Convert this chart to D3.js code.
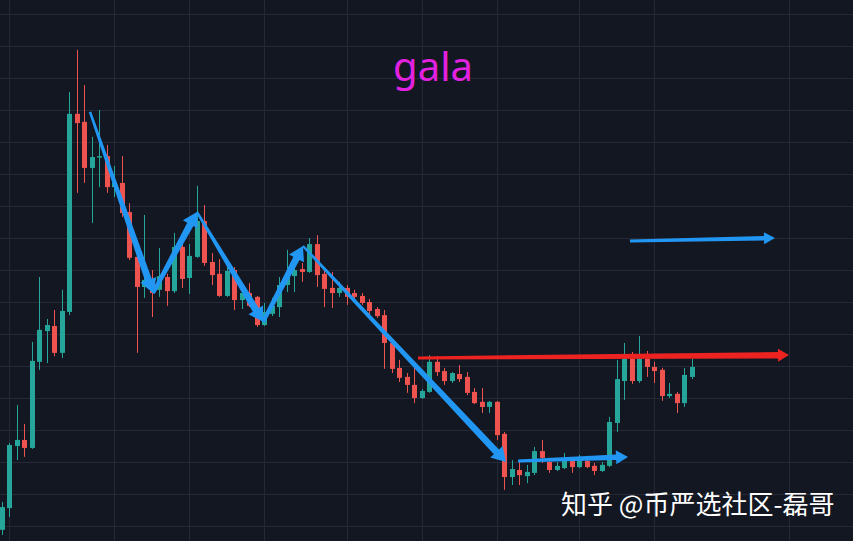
<!DOCTYPE html>
<html><head><meta charset="utf-8">
<script src="https://cdn.jsdelivr.net/npm/d3@7"></script>
<style>html,body{margin:0;padding:0;background:#131722;overflow:hidden}svg{display:block}</style>
</head><body><svg id="c" width="853" height="541"></svg>
<script>
const opens = [0.1988,0.2056,0.2250,0.2269,0.2244,0.2513,0.2609,0.2625,0.2541,0.2669,
0.3288,0.3263,0.3119,0.3153,0.3156,0.3059,0.3072,0.2981,0.2841,0.2747,
0.2769,0.2738,0.2778,0.2734,0.2872,0.2775,0.2841,0.2953,0.2825,0.2788,
0.2719,0.2800,0.2706,0.2728,0.2716,0.2628,0.2663,0.2684,0.2753,0.2781,
0.2803,0.2794,0.2881,0.2788,0.2744,0.2728,0.2744,0.2728,0.2719,0.2700,
0.2678,0.2659,0.2572,0.2494,0.2466,0.2441,0.2400,0.2419,0.2513,0.2484,
0.2453,0.2475,0.2466,0.2419,0.2388,0.2372,0.2388,0.2288,0.2153,0.2175,
0.2156,0.2166,0.2234,0.2200,0.2175,0.2181,0.2203,0.2184,0.2203,0.2188,
0.2172,0.2188,0.2322,0.2453,0.2522,0.2453,0.2522,0.2497,0.2488,0.2406,
0.2413,0.2384,0.2466];
const closes = [0.2059,0.2253,0.2269,0.2244,0.2516,0.2613,0.2628,0.2541,0.2672,0.3288,
0.3259,0.3119,0.3153,0.3156,0.3059,0.3072,0.2978,0.2838,0.2747,0.2769,
0.2728,0.2781,0.2734,0.2872,0.2772,0.2844,0.2953,0.2822,0.2784,0.2719,
0.2797,0.2706,0.2728,0.2688,0.2628,0.2669,0.2688,0.2753,0.2778,0.2800,
0.2794,0.2881,0.2784,0.2741,0.2728,0.2744,0.2716,0.2716,0.2697,0.2672,
0.2656,0.2572,0.2491,0.2463,0.2441,0.2400,0.2422,0.2513,0.2481,0.2453,
0.2478,0.2459,0.2416,0.2384,0.2372,0.2388,0.2284,0.2153,0.2178,0.2159,
0.2169,0.2234,0.2213,0.2175,0.2188,0.2206,0.2184,0.2206,0.2184,0.2172,
0.2191,0.2325,0.2459,0.2522,0.2453,0.2522,0.2497,0.2484,0.2406,0.2413,
0.2384,0.2472,0.2497];
const highs = [0.2075,0.2259,0.2378,0.2319,0.2575,0.2778,0.2647,0.2675,0.2738,0.3356,
0.3488,0.3378,0.3216,0.3300,0.3191,0.3125,0.3156,0.3009,0.2847,0.2972,
0.2800,0.2869,0.2788,0.2916,0.2894,0.2881,0.3063,0.3003,0.2853,0.2834,
0.2813,0.2809,0.2753,0.2759,0.2719,0.2697,0.2713,0.2778,0.2863,0.2806,
0.2822,0.2900,0.2909,0.2800,0.2794,0.2763,0.2753,0.2738,0.2728,0.2709,
0.2684,0.2675,0.2575,0.2519,0.2478,0.2494,0.2428,0.2534,0.2531,0.2494,
0.2481,0.2503,0.2481,0.2431,0.2431,0.2391,0.2391,0.2294,0.2206,0.2200,
0.2191,0.2247,0.2269,0.2213,0.2200,0.2228,0.2216,0.2222,0.2213,0.2197,
0.2200,0.2341,0.2519,0.2572,0.2544,0.2594,0.2547,0.2513,0.2494,0.2447,
0.2419,0.2494,0.2522];
const lows = [0.1972,0.2028,0.2206,0.2216,0.2241,0.2488,0.2509,0.2531,0.2525,0.2659,
0.3041,0.3072,0.2947,0.3059,0.3041,0.3028,0.2966,0.2831,0.2541,0.2713,
0.2653,0.2716,0.2688,0.2728,0.2744,0.2725,0.2838,0.2813,0.2753,0.2716,
0.2716,0.2675,0.2678,0.2684,0.2622,0.2625,0.2656,0.2653,0.2731,0.2731,
0.2763,0.2791,0.2747,0.2684,0.2681,0.2716,0.2691,0.2706,0.2691,0.2650,
0.2650,0.2491,0.2478,0.2450,0.2416,0.2384,0.2397,0.2416,0.2469,0.2441,
0.2447,0.2450,0.2409,0.2381,0.2353,0.2353,0.2269,0.2113,0.2128,0.2128,
0.2134,0.2159,0.2197,0.2166,0.2172,0.2178,0.2166,0.2181,0.2181,0.2159,
0.2169,0.2184,0.2294,0.2394,0.2444,0.2447,0.2466,0.2447,0.2391,0.2400,
0.2353,0.2372,0.2459];

// grid (time ticks as bar indices, price ticks)
const timeTicks = [1,15,25,35,46,56,66,77,87,105];
const priceTicks = [0.20,0.21,0.22,0.23,0.24,0.25,0.26,0.27,0.28,0.29,0.30,0.31,0.32,0.33,0.34,0.35,0.36];

// drawings: [startIndex, startPrice, endIndex, endPrice]
const blueArrows = [
  [11.76,0.3294,20.16,0.2728],
  [20.16,0.2728,26.03,0.2981],
  [26.03,0.2981,34.83,0.2638],
  [34.83,0.2638,40.16,0.2875],
  [40.16,0.2875,67.23,0.2200],
  [68.83,0.2203,83.50,0.2216],
  [83.76,0.2891,103.1,0.2900]
];
const redArrows = [[55.5,0.2525,104.96,0.2534]];
const titleText = "gala";
const watermarkText = "知乎 @币严选社区-磊哥";

const W = 853, H = 541;
const svg = d3.select("#c");
svg.append("rect").attr("width",W).attr("height",H).attr("fill","#131722");

const x = d3.scaleLinear().domain([0,113.5]).range([1.8,853]);
const y = d3.scaleLinear().domain([0.36,0.20]).range([14,526]);

// grid via axes
const gx = svg.append("g").attr("transform",`translate(0,${H})`)
  .call(d3.axisBottom(x).tickValues(timeTicks).tickSize(-H).tickFormat(""));
const gy = svg.append("g")
  .call(d3.axisLeft(y).tickValues(priceTicks).tickSize(-W).tickFormat(""));
[gx,gy].forEach(g=>{g.select(".domain").remove();
  g.selectAll("line").attr("stroke","#242837").attr("stroke-width",1).attr("shape-rendering","crispEdges");});

// title
svg.append("text").attr("x",433).attr("y",81).attr("text-anchor","middle")
  .attr("font-family","'Noto Sans','Open Sans',sans-serif").attr("font-size",40)
  .attr("fill","#e321e0").text(titleText);

// candles
const data = opens.map((o,i)=>({i,o,c:closes[i],h:highs[i],l:lows[i]}));
const up = "#26a69a", dn = "#ef5350";
const bw = 5;
const cg = svg.append("g");
cg.selectAll("line.w").data(data).join("line")
  .attr("x1",d=>Math.round(x(d.i))+0.5).attr("x2",d=>Math.round(x(d.i))+0.5)
  .attr("y1",d=>y(d.h)).attr("y2",d=>y(d.l))
  .attr("stroke",d=>d.c>=d.o?up:dn).attr("stroke-width",1);
cg.selectAll("rect.b").data(data).join("rect")
  .attr("x",d=>Math.round(x(d.i))-2).attr("width",bw)
  .attr("y",d=>y(Math.max(d.o,d.c)))
  .attr("height",d=>Math.max(1.5,Math.abs(y(d.o)-y(d.c))))
  .attr("fill",d=>d.c>=d.o?up:dn);

// tapered arrows
function arrowPath(a, w0, w1, hl, hw){
  const p0=[x(a[0]),y(a[1])], p1=[x(a[2]),y(a[3])];
  const dx=p1[0]-p0[0], dy=p1[1]-p0[1], L=Math.hypot(dx,dy);
  const u=[dx/L,dy/L], n=[-u[1],u[0]];
  const b=[p1[0]-u[0]*hl,p1[1]-u[1]*hl];
  const P=(p,k)=>[p[0]+n[0]*k,p[1]+n[1]*k];
  const pts=[P(p0,w0/2),P(b,w1/2),P(b,hw),p1,P(b,-hw),P(b,-w1/2),P(p0,-w0/2)];
  return "M"+pts.map(p=>p[0].toFixed(2)+","+p[1].toFixed(2)).join("L")+"Z";
}
const ag = svg.append("g");
ag.selectAll("path.r").data(redArrows).join("path")
  .attr("d",a=>arrowPath(a,3,6.5,11,6.5)).attr("fill","#ec2320");
const blueW = [[2.5,7,14,8.5],[4,7,14,8.5],[2.5,7,14,8.5],[4,7,14,8.5],[2.5,7,14,8.5],[3,5.5,12,7],[3,4.5,11,6]];
ag.selectAll("path.b").data(blueArrows).join("path")
  .attr("d",(a,k)=>arrowPath(a,...blueW[k])).attr("fill","#2196f3");

// watermark
svg.append("text").attr("x",561).attr("y",514)
  .attr("font-family","'Noto Sans CJK SC',sans-serif").attr("font-size",26)
  .attr("fill","#ffffff").text(watermarkText);
</script></body></html>
